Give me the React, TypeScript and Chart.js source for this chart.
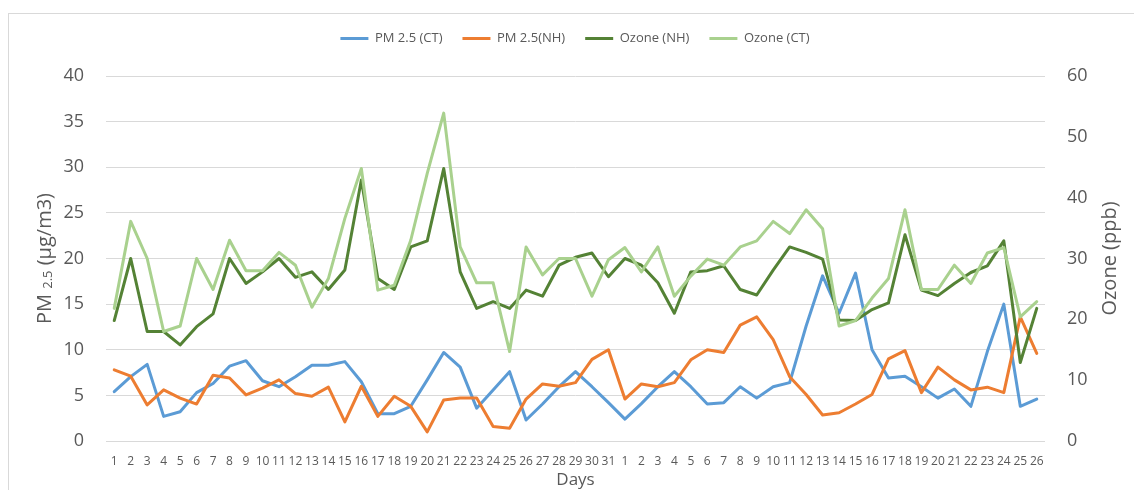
import React, { useEffect, useRef } from 'react';
import { Chart, registerables } from 'chart.js';

Chart.register(...registerables);

const DAYS = [
  '1', '2', '3', '4', '5', '6', '7', '8', '9', '10', '11', '12', '13', '14', '15', '16',
  '17', '18', '19', '20', '21', '22', '23', '24', '25', '26', '27', '28', '29', '30', '31',
  '1', '2', '3', '4', '5', '6', '7', '8', '9', '10', '11', '12', '13', '14', '15', '16',
  '17', '18', '19', '20', '21', '22', '23', '24', '25', '26',
];

const PM25_CT = [
  5.4, 7.05, 8.4, 2.7, 3.2, 5.3, 6.3, 8.2, 8.8, 6.6, 5.95, 7.05, 8.3, 8.3, 8.7,
  6.5, 3.0, 3.0, 3.8, 6.7, 9.7, 8.1, 3.6, 5.6, 7.6, 2.3, 4.05, 5.95, 7.6,
  5.95, 4.2, 2.4, 4.1, 5.95, 7.6, 5.95, 4.05, 4.2, 5.95, 4.7, 5.95, 6.4,
  12.6, 18.1, 14.0, 18.4, 10.0, 6.9, 7.1, 5.95, 4.7, 5.7, 3.8, 9.8, 15.0, 3.8, 4.6,
];

const PM25_NH = [
  7.8, 7.1, 3.95, 5.6, 4.7, 4.05, 7.2, 6.9, 5.05, 5.8, 6.7, 5.2, 4.9, 5.9, 2.1,
  6.0, 2.7, 4.9, 3.8, 1.0, 4.5, 4.7, 4.7, 1.6, 1.4, 4.6, 6.25, 6.0, 6.4,
  8.95, 10.0, 4.6, 6.25, 5.95, 6.4, 8.9, 10.0, 9.7, 12.7, 13.6, 11.1, 7.05,
  5.1, 2.85, 3.1, 4.05, 5.1, 9.0, 9.9, 5.3, 8.1, 6.7, 5.6, 5.9, 5.3, 13.6, 9.6,
];

const OZONE_NH = [
  19.8, 30.0, 18.0, 18.0, 15.8, 18.8, 20.9, 30.0, 25.9, 27.8, 30.0, 26.9, 27.8, 24.9, 28.1,
  42.9, 26.7, 24.9, 31.9, 32.9, 44.8, 27.8, 21.8, 22.9, 21.8, 24.8, 23.8, 28.9, 30.2,
  30.9, 27.0, 30.0, 28.9, 26.0, 21.0, 27.8, 28.0, 28.8, 24.9, 24.0, 28.1, 31.9,
  31.0, 29.9, 19.9, 19.8, 21.6, 22.7, 33.9, 24.8, 23.9, 25.9, 27.7, 28.8, 32.9, 12.9, 21.8,
];

const OZONE_CT = [
  21.8, 36.1, 30.0, 18.0, 18.9, 30.0, 24.9, 33.0, 28.0, 28.0, 31.0, 28.9, 22.0, 26.7, 36.6,
  44.8, 24.8, 25.6, 33.0, 44.0, 53.9, 31.9, 26.0, 26.0, 14.7, 31.9, 27.3, 30.0, 30.0,
  23.8, 29.8, 31.8, 27.8, 31.9, 23.8, 27.1, 29.9, 28.9, 31.9, 32.9, 36.1, 34.1,
  38.0, 34.9, 18.9, 19.8, 23.5, 26.7, 38.0, 24.9, 24.9, 28.9, 25.9, 30.9, 31.8, 20.4, 22.9,
];

const TEXT = '#595959';
const GRID = '#d9d9d9';
const FONT = '"Open Sans", "Liberation Sans", sans-serif';

export default function App() {
  const ref = useRef<HTMLCanvasElement>(null);

  useEffect(() => {
    const canvas = ref.current;
    if (!canvas) return;

    const legendSpacer = {
      id: 'legendSpacer',
      beforeInit(chart: any) {
        const legend = chart.legend;
        if (!legend) return;
        const origFit = legend.fit;
        legend.fit = function fit() {
          origFit.call(this);
          this.height += 21;
        };
      },
    };

    const axisTitles = {
      id: 'axisTitles',
      afterDraw(chart: any) {
        const ctx = chart.ctx as CanvasRenderingContext2D;
        const area = chart.chartArea;
        const cy = (area.top + area.bottom) / 2;
        const big = `20px ${FONT}`;
        const small = `13px ${FONT}`;
        ctx.save();
        ctx.fillStyle = TEXT;
        ctx.textBaseline = 'alphabetic';
        ctx.textAlign = 'left';

        // Left title with subscript
        const parts: [string, string, number][] = [
          ['PM ', big, 0],
          ['2.5', small, 1],
          [' (µg/m3)', big, 0],
        ];
        let total = 0;
        const widths = parts.map(([t, f]) => {
          ctx.font = f;
          const w = ctx.measureText(t).width;
          total += w;
          return w;
        });
        ctx.save();
        ctx.translate(51, cy);
        ctx.rotate(-Math.PI / 2);
        let x = -total / 2;
        parts.forEach(([t, f, dy], i) => {
          ctx.font = f;
          ctx.fillText(t, x, dy);
          x += widths[i];
        });
        ctx.restore();

        // Right title
        ctx.save();
        ctx.font = big;
        ctx.translate(1116, cy);
        ctx.rotate(-Math.PI / 2);
        ctx.textAlign = 'center';
        ctx.fillText('Ozone (ppb)', 0, 0);
        ctx.restore();

        ctx.restore();
      },
    };

    const mk = (label: string, data: number[], color: string, axis: string, order: number) => ({
      label,
      data,
      borderColor: color,
      backgroundColor: color,
      borderWidth: 3,
      pointRadius: 0,
      pointHoverRadius: 0,
      tension: 0,
      borderJoinStyle: 'round' as const,
      borderCapStyle: 'round' as const,
      yAxisID: axis,
      order,
      fill: false,
    });

    const chart = new Chart(canvas, {
      type: 'line',
      data: {
        labels: DAYS,
        datasets: [
          mk('PM 2.5 (CT)', PM25_CT, '#5B9BD5', 'y', 3),
          mk('PM 2.5(NH)', PM25_NH, '#ED7D31', 'y', 2),
          mk('Ozone (NH)', OZONE_NH, '#548235', 'y1', 1),
          mk('Ozone (CT)', OZONE_CT, '#A9D18E', 'y1', 0),
        ],
      },
      options: {
        responsive: false,
        animation: false,
        devicePixelRatio: 1,
        layout: { padding: { top: 12, left: 16, right: 0, bottom: 0 } },
        plugins: {
          tooltip: { enabled: false },
          legend: {
            position: 'top',
            align: 'center',
            labels: {
              usePointStyle: true,
              pointStyle: 'line',
              pointStyleWidth: 28,
              boxWidth: 28,
              padding: 20,
              color: TEXT,
              font: { family: FONT, size: 13 },
              sort: (a: any, b: any) => a.datasetIndex - b.datasetIndex,
            },
          },
        },
        scales: {
          x: {
            type: 'category',
            offset: true,
            grid: { display: false, drawTicks: false },
            border: { display: false },
            ticks: {
              color: TEXT,
              font: { family: FONT, size: 12 },
              autoSkip: false,
              maxRotation: 0,
              minRotation: 0,
              padding: 13,
            },
            title: {
              display: true,
              text: 'Days',
              color: TEXT,
              font: { family: FONT, size: 17 },
              padding: { top: 0, bottom: 0 },
            },
            afterFit: (scale: any) => {
              scale.height = 49;
            },
          },
          y: {
            position: 'left',
            min: 0,
            max: 40,
            ticks: {
              stepSize: 5,
              color: TEXT,
              font: { family: FONT, size: 18 },
              padding: 22,
            },
            grid: { color: GRID, lineWidth: 1, drawTicks: false },
            border: { display: false },
            afterFit: (scale: any) => {
              scale.width = 90;
            },
          },
          y1: {
            position: 'right',
            min: 0,
            max: 60,
            ticks: {
              stepSize: 10,
              color: TEXT,
              font: { family: FONT, size: 18 },
              padding: 22,
            },
            grid: { drawOnChartArea: false, drawTicks: false },
            border: { display: false },
            afterFit: (scale: any) => {
              scale.width = 89;
            },
          },
        },
      },
      plugins: [legendSpacer, axisTitles],
    } as any);

    return () => {
      chart.destroy();
    };
  }, []);

  return (
    <div>
      <div
        style={{
          position: 'fixed',
          left: 8,
          top: 13,
          right: 0,
          bottom: 0,
          borderTop: '1px solid #d9d9d9',
          borderLeft: '1px solid #d9d9d9',
          background: '#fff',
        }}
      />
      <canvas
        ref={ref}
        width={1134}
        height={490}
        style={{ position: 'fixed', left: 0, top: 0, width: 1134, height: 490, display: 'block' }}
      />
    </div>
  );
}
